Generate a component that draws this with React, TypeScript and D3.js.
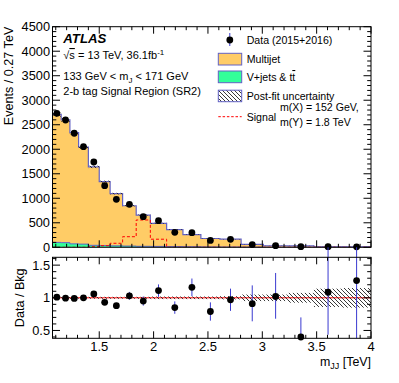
import React from 'react';
import * as d3 from 'd3';

// ---------------- data ----------------
const binEdges = [1.07, 1.15, 1.23, 1.31, 1.40, 1.50, 1.60, 1.715, 1.84, 1.97, 2.12, 2.27, 2.435, 2.61, 2.805, 3.01, 3.235, 3.475, 3.735, 4.0];
const dataValues = [2733, 2597, 2326, 2052, 1740, 1257, 979, 877, 624, 543, 306, 298, 140, 163, 55, 33, 12, 12, 10];
const multijetValues = [2606, 2505, 2270, 1980, 1600, 1305, 1065, 823, 638, 472, 347, 246, 172, 160, 56, 29, 26, 10, 7];
const vjetsValues = [100, 95, 70, 65, 40, 35, 30, 25, 20, 18, 15, 12, 8, 6, 4, 3, 2, 1, 1];
const signalValues = [0, 0, 0, 0, 12, 32, 82, 216, 557, 165, 0, 0, 0, 0, 0, 0, 0, 0, 0];
const ratioValues = [1.01, 0.995, 0.99, 1.0, 1.06, 0.93, 0.88, 1.03, 0.95, 1.11, 0.85, 1.16, 0.79, 0.97, 0.91, 1.02, 0.40, 1.085, 1.263];
const ratioErrUp = [0.02, 0.02, 0.02, 0.02, 0.03, 0.035, 0.04, 0.06, 0.07, 0.095, 0.095, 0.135, 0.14, 0.17, 0.28, 0.36, 0.30, 0.75, 1.0];
const ratioErrDown = [0.02, 0.02, 0.02, 0.02, 0.03, 0.035, 0.04, 0.06, 0.07, 0.095, 0.095, 0.135, 0.14, 0.17, 0.27, 0.34, 0.25, 0.65, 0.9];
const bkgRelUnc = [0.015, 0.015, 0.015, 0.015, 0.015, 0.015, 0.015, 0.015, 0.015, 0.02, 0.02, 0.02, 0.02, 0.025, 0.05, 0.05, 0.075, 0.14, 0.15];
const xTickLabels = [1.5, 2, 2.5, 3, 3.5, 4];
const yUpperLabels = [0, 500, 1000, 1500, 2000, 2500, 3000, 3500, 4000, 4500];
const yLowerLabels = [0.5, 1, 1.5];

// ---------------- layout ----------------
const W = 399, H = 383;
const left = 52.5, right = 371;
const upTop = 26.7, upBot = 247.3, lowTop = 257.3, lowBot = 338.3;
const FONT = '"Liberation Sans", Arial, Helvetica, sans-serif';
const LINE = '#6262c4';
const ERR = '#3a3ad0';

const x = d3.scaleLinear().domain([1.07, 4.0]).range([left, right]);
const yU = d3.scaleLinear().domain([0, 4500]).range([upBot, upTop]);
const yL = d3.scaleLinear().domain([0.38, 1.62]).range([lowBot, lowTop]);

const nb = dataValues.length;
const centers = d3.range(nb).map(i => (binEdges[i] + binEdges[i + 1]) / 2);
const vjetsTop = vjetsValues;
const totalBkg = d3.range(nb).map(i => multijetValues[i] + vjetsValues[i]);

function stepPoints(vals: number[]): [number, number][] {
  const pts: [number, number][] = vals.map((v, i) => [binEdges[i], v]);
  pts.push([binEdges[nb], vals[nb - 1]]);
  return pts;
}

function stepArea(top: number[], bottom: number[], ys: d3.ScaleLinear<number, number>) {
  const pts = stepPoints(top).map((p, i) => ({ x: p[0], t: p[1], b: i < nb ? bottom[i] : bottom[nb - 1] }));
  return d3.area<any>().x(d => x(d.x)).y0(d => ys(d.b)).y1(d => ys(d.t)).curve(d3.curveStepAfter)(pts) || '';
}

function stepLine(vals: number[], ys: d3.ScaleLinear<number, number>) {
  const pts = stepPoints(vals);
  const line = d3.line<[number, number]>().x(d => x(d[0])).y(d => ys(d[1])).curve(d3.curveStepAfter);
  return line(pts) || '';
}

const xTicks = d3.range(11, 41).map(v => v / 10);
const isMajorX = (v: number) => Math.abs(v * 2 - Math.round(v * 2)) < 1e-6;
const yUTicks = d3.range(0, 4501, 100);
const yLTicks = d3.range(4, 17).map(v => v / 10);

function Ticks({ yTop, yBot, yTicks, ys, isMajorY }: any) {
  const lines: any[] = [];
  xTicks.forEach((v, i) => {
    const L = isMajorX(v) ? 7 : 3.5;
    lines.push(<line key={'xb' + i} x1={x(v)} x2={x(v)} y1={yBot} y2={yBot - L} />);
    lines.push(<line key={'xt' + i} x1={x(v)} x2={x(v)} y1={yTop} y2={yTop + L} />);
  });
  yTicks.forEach((v: number, i: number) => {
    const L = isMajorY(v) ? 7.5 : 3.8;
    lines.push(<line key={'yl' + i} x1={left} x2={left + L} y1={ys(v)} y2={ys(v)} />);
    lines.push(<line key={'yr' + i} x1={right} x2={right - L} y1={ys(v)} y2={ys(v)} />);
  });
  return <g stroke="#000" strokeWidth={1}>{lines}</g>;
}

export default function App() {
  const uncUpper = d3.range(nb).map(i => {
    const t = totalBkg[i];
    const u = t * bkgRelUnc[i];
    return <rect key={'uu' + i} x={x(binEdges[i])} width={x(binEdges[i + 1]) - x(binEdges[i])}
      y={yU(t + u)} height={Math.max(0, yU(t - u) - yU(t + u))} fill="url(#hatch)" />;
  });
  const uncLower = d3.range(nb).map(i => {
    const u = bkgRelUnc[i];
    return <rect key={'ul' + i} x={x(binEdges[i])} width={x(binEdges[i + 1]) - x(binEdges[i])}
      y={yL(1 + u)} height={yL(1 - u) - yL(1 + u)} fill="url(#hatch)" />;
  });

  const clampL = (v: number) => Math.max(upBot, Math.min(lowBot, v));

  return (
    <div style={{ position: 'fixed', left: 0, top: 0, width: W, height: H, background: '#fff' }}>
      <svg width={W} height={H} style={{ display: 'block', fontFamily: FONT }}>
        <defs>
          <pattern id="hatch" patternUnits="userSpaceOnUse" width="4" height="4">
            <path d="M-1,3 L1,5 M0,0 L4,4 M3,-1 L5,1" stroke="#222" strokeWidth={0.9} />
          </pattern>
          <clipPath id="clipU"><rect x={left} y={upTop} width={right - left} height={upBot - upTop} /></clipPath>
          <clipPath id="clipL"><rect x={left} y={lowTop} width={right - left} height={lowBot - lowTop} /></clipPath>
        </defs>
        <rect x={0} y={0} width={W} height={H} fill="#fff" />

        {/* ---------- upper panel ---------- */}
        <g clipPath="url(#clipU)">
          <path d={stepArea(totalBkg, vjetsTop, yU)} fill="#ffcc66" />
          <path d={stepArea(vjetsTop, vjetsTop.map(() => 0), yU)} fill="#33ff99" />
          <path d={stepLine(vjetsTop, yU)} fill="none" stroke={LINE} strokeWidth={1} />
          <path d={stepLine(totalBkg, yU)} fill="none" stroke={LINE} strokeWidth={1.2} />
          {uncUpper}
          <path d={stepLine(signalValues, yU)} fill="none" stroke="#ff0000" strokeWidth={1} strokeDasharray="3,2" />
        </g>
        {d3.range(nb).map(i => {
          const err = dataValues[i] * ((ratioErrUp[i] + ratioErrDown[i]) / 2) / ratioValues[i];
          return <line key={'de' + i} x1={x(centers[i])} x2={x(centers[i])}
            y1={Math.min(upBot, yU(dataValues[i] - err))} y2={yU(dataValues[i] + err)} stroke={ERR} strokeWidth={1} />;
        })}
        {d3.range(nb).map(i => (
          <circle key={'dp' + i} cx={x(centers[i])} cy={yU(dataValues[i])} r={3.4} fill="#000" />
        ))}
        <rect x={left} y={upTop} width={right - left} height={upBot - upTop} fill="none" stroke="#000" strokeWidth={1} />
        <Ticks yTop={upTop} yBot={upBot} yTicks={yUTicks} ys={yU} isMajorY={(v: number) => v % 500 === 0} />
        <g fontSize={12.8} textAnchor="end">
          {yUpperLabels.map(v => <text key={'yu' + v} x={50} y={yU(v)} dy="0.36em">{v}</text>)}
        </g>
        <text transform={`translate(13,${upTop}) rotate(-90)`} textAnchor="end" fontSize={12.6}>Events / 0.27 TeV</text>

        {/* texts */}
        <text x={63.3} y={43} fontSize={13.2} fontWeight="bold" fontStyle="italic">ATLAS</text>
        <text x={63.3} y={59} fontSize={11}>√<tspan style={{ textDecoration: 'overline' }}>s</tspan> = 13 TeV, 36.1fb<tspan dy={-4} fontSize={8}>-1</tspan></text>
        <text x={63.3} y={79.5} fontSize={11}>133 GeV &lt; m<tspan dy={3} fontSize={8}>J</tspan><tspan dy={-3}> &lt; 171 GeV</tspan></text>
        <text x={63.3} y={94.5} fontSize={11}>2-b tag Signal Region (SR2)</text>

        {/* legend */}
        <g fontSize={10.6}>
          <line x1={229.8} x2={229.8} y1={33} y2={46} stroke={ERR} strokeWidth={1} />
          <circle cx={229.8} cy={40} r={3.4} fill="#000" />
          <text x={246.7} y={44}>Data (2015+2016)</text>
          <rect x={218.3} y={53.3} width={23.4} height={11.7} fill="#ffcc66" stroke={LINE} strokeWidth={1} />
          <text x={246.7} y={63}>Multijet</text>
          <rect x={218.3} y={71} width={23.4} height={11.7} fill="#33ff99" stroke={LINE} strokeWidth={1} />
          <text x={246.7} y={81}>V+jets &amp; t<tspan style={{ textDecoration: 'overline' }}>t</tspan></text>
          <rect x={218.3} y={90.2} width={23.4} height={11.5} fill="url(#hatch)" stroke={LINE} strokeWidth={1} />
          <text x={246.7} y={100}>Post-fit uncertainty</text>
          <line x1={218.3} x2={241.7} y1={116.7} y2={116.7} stroke="#ff0000" strokeWidth={1} strokeDasharray="2.5,1.8" />
          <text x={246.7} y={120.5}>Signal</text>
          <text x={280} y={111}>m(X) = 152 GeV,</text>
          <text x={280} y={126}>m(Y) = 1.8 TeV</text>
        </g>

        {/* ---------- lower panel ---------- */}
        <g clipPath="url(#clipL)">
          <line x1={left} x2={right} y1={yL(1)} y2={yL(1)} stroke="#ff0000" strokeWidth={1} />
          {uncLower}
        </g>
        {d3.range(nb).map(i => (
          <line key={'re' + i} x1={x(centers[i])} x2={x(centers[i])}
            y1={clampL(yL(ratioValues[i] - ratioErrDown[i]))} y2={clampL(yL(ratioValues[i] + ratioErrUp[i]))}
            stroke={ERR} strokeWidth={1} />
        ))}
        {d3.range(nb).map(i => (
          <circle key={'rp' + i} cx={x(centers[i])} cy={Math.min(lowBot - 0.6, yL(ratioValues[i]))} r={3.4} fill="#000" />
        ))}
        <rect x={left} y={lowTop} width={right - left} height={lowBot - lowTop} fill="none" stroke="#000" strokeWidth={1} />
        <Ticks yTop={lowTop} yBot={lowBot} yTicks={yLTicks} ys={yL} isMajorY={(v: number) => Math.abs(v * 2 - Math.round(v * 2)) < 1e-6} />
        <g fontSize={12.8} textAnchor="end">
          {yLowerLabels.map(v => <text key={'yl' + v} x={50} y={yL(v)} dy="0.36em">{v}</text>)}
        </g>
        <g fontSize={13} textAnchor="middle">
          {xTickLabels.map(v => <text key={'xl' + v} x={x(v)} y={350.6}>{v}</text>)}
        </g>
        <text transform={`translate(24,${(lowTop + lowBot) / 2}) rotate(-90)`} textAnchor="middle" fontSize={12.6}>Data / Bkg</text>
        <text x={371} y={366} textAnchor="end" fontSize={12.4}>m<tspan dy={3} fontSize={9}>JJ</tspan><tspan dy={-3}> [TeV]</tspan></text>
      </svg>
    </div>
  );
}
